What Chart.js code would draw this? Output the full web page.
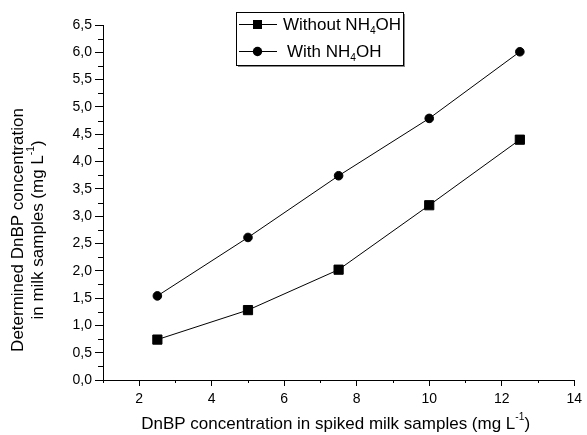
<!DOCTYPE html>
<html>
<head>
<meta charset="utf-8">
<script src="https://cdn.jsdelivr.net/npm/chart.js@4.4.1/dist/chart.umd.min.js"></script>
<style>
  html, body { margin: 0; padding: 0; background: #fff; }
  #wrap { width: 587px; height: 435px; }
</style>
</head>
<body>
<div id="wrap"><canvas id="c"></canvas></div>
<script>
// spiked concentration (mg/L)
const spiked = [2.5, 5, 7.5, 10, 12.5];
const withoutNH4OH = [0.74, 1.28, 2.02, 3.2, 4.4];
const withNH4OH = [1.54, 2.61, 3.74, 4.79, 6.01];
const xTicks = [2, 4, 6, 8, 10, 12, 14];
const xMinor = [1, 3, 5, 7, 9, 11, 13];
const yTicks = [0, 0.5, 1, 1.5, 2, 2.5, 3, 3.5, 4, 4.5, 5, 5.5, 6, 6.5];
const yMinor = [0.25, 0.75, 1.25, 1.75, 2.25, 2.75, 3.25, 3.75, 4.25, 4.75, 5.25, 5.75, 6.25];

const FONT = '"Liberation Sans", Arial, sans-serif';

function pts(ys) {
  return spiked.map((x, i) => ({ x: x, y: ys[i] }));
}

// minor ticks + axis titles + legend (sub/superscripts need manual drawing)
const decor = {
  id: 'decor',
  afterDraw(chart) {
    const ctx = chart.ctx;
    const xs = chart.scales.x, ys = chart.scales.y;
    const area = chart.chartArea;
    ctx.save();
    ctx.strokeStyle = '#000';
    ctx.lineWidth = 1;
    ctx.beginPath();
    xMinor.forEach(v => {
      const px = Math.round(xs.getPixelForValue(v)) + 0.5;
      ctx.moveTo(px, area.bottom);
      ctx.lineTo(px, area.bottom + 3);
    });
    yMinor.forEach(v => {
      const py = Math.round(ys.getPixelForValue(v)) + 0.5;
      ctx.moveTo(area.left, py);
      ctx.lineTo(area.left - 5, py);
    });
    ctx.stroke();

    ctx.fillStyle = '#000';
    // x title
    drawRich(ctx, [['DnBP concentration in spiked milk samples (mg L', 0], ['-1', -1], [')', 0]],
      (area.left + area.right) / 2 - 3, 424, 17, 'center');
    // y title (two lines, rotated)
    ctx.save();
    ctx.translate(18, 230);
    ctx.rotate(-Math.PI / 2);
    drawRich(ctx, [['Determined DnBP concentration', 0]], 0, 0, 17, 'center');
    ctx.restore();
    ctx.save();
    ctx.translate(38, 230);
    ctx.rotate(-Math.PI / 2);
    drawRich(ctx, [['in milk samples (mg L', 0], ['-1', -1], [')', 0]], 0, 0, 17, 'center');
    ctx.restore();

    // legend
    const bx = 236, by = 12, bw = 167, bh = 53;
    ctx.fillStyle = '#888';
    ctx.fillRect(bx + 2, by + 2, bw, bh);
    ctx.fillStyle = '#fff';
    ctx.fillRect(bx, by, bw, bh);
    ctx.strokeStyle = '#000';
    ctx.strokeRect(bx + 0.5, by + 0.5, bw, bh);
    const rows = [
      { y: 24, marker: 'rect', parts: [['Without NH', 0], ['4', 1], ['OH', 0]], tx: 283 },
      { y: 51, marker: 'circle', parts: [['With NH', 0], ['4', 1], ['OH', 0]], tx: 287 }
    ];
    rows.forEach(r => {
      ctx.beginPath();
      ctx.moveTo(239, r.y + 0.5);
      ctx.lineTo(277, r.y + 0.5);
      ctx.stroke();
      ctx.fillStyle = '#000';
      if (r.marker === 'rect') {
        ctx.fillRect(253, r.y - 4, 9, 9);
      } else {
        ctx.beginPath();
        ctx.arc(257.5, r.y + 0.5, 4.7, 0, Math.PI * 2);
        ctx.fill();
      }
      drawRich(ctx, r.parts, r.tx, r.y + 1, 17, 'left');
    });
    ctx.restore();
  }
};

// parts: [text, shift] shift 0 normal, -1 superscript, 1 subscript
function drawRich(ctx, parts, x, y, size, align) {
  ctx.textBaseline = 'middle';
  ctx.textAlign = 'left';
  let total = 0;
  parts.forEach(p => {
    ctx.font = (p[1] ? size * 0.6 : size) + 'px ' + FONT;
    total += ctx.measureText(p[0]).width;
  });
  let cx = align === 'center' ? x - total / 2 : x;
  parts.forEach(p => {
    ctx.font = (p[1] ? size * 0.6 : size) + 'px ' + FONT;
    const dy = p[1] === -1 ? -size * 0.4 : (p[1] === 1 ? size * 0.38 : 0);
    ctx.fillText(p[0], cx, y + dy);
    cx += ctx.measureText(p[0]).width;
  });
}

new Chart(document.getElementById('c'), {
  type: 'line',
  data: {
    datasets: [
      {
        label: 'Without NH4OH',
        data: pts(withoutNH4OH),
        borderColor: '#000',
        backgroundColor: '#000',
        borderWidth: 1,
        pointStyle: 'rect',
        pointRadius: 6.5,
        pointHoverRadius: 6.5
      },
      {
        label: 'With NH4OH',
        data: pts(withNH4OH),
        borderColor: '#000',
        backgroundColor: '#000',
        borderWidth: 1,
        pointStyle: 'circle',
        pointRadius: 4.3,
        pointHoverRadius: 4.3
      }
    ]
  },
  options: {
    responsive: true,
    maintainAspectRatio: false,
    animation: false,
    events: [],
    layout: { padding: { top: 25, right: 11, left: 0, bottom: 0 } },
    plugins: { legend: { display: false }, tooltip: { enabled: false } },
    scales: {
      x: {
        type: 'linear',
        min: 1,
        max: 14,
        afterFit(s) { s.height = 55; },
        afterBuildTicks(s) { s.ticks = xTicks.map(v => ({ value: v })); },
        grid: { drawOnChartArea: false, color: '#000', tickLength: 6, tickColor: '#000' },
        border: { color: '#000', width: 1 },
        ticks: { color: '#000', font: { family: FONT, size: 14 }, padding: 5, maxRotation: 0 }
      },
      y: {
        type: 'linear',
        min: 0,
        max: 6.5,
        afterFit(s) { s.width = 103; },
        afterBuildTicks(s) { s.ticks = yTicks.map(v => ({ value: v })); },
        grid: { drawOnChartArea: false, color: '#000', tickLength: 8, tickColor: '#000' },
        border: { color: '#000', width: 1 },
        ticks: {
          color: '#000',
          font: { family: FONT, size: 14 },
          padding: 3,
          callback: v => v.toFixed(1).replace('.', ',')
        }
      }
    }
  },
  plugins: [decor]
});
</script>
</body>
</html>
